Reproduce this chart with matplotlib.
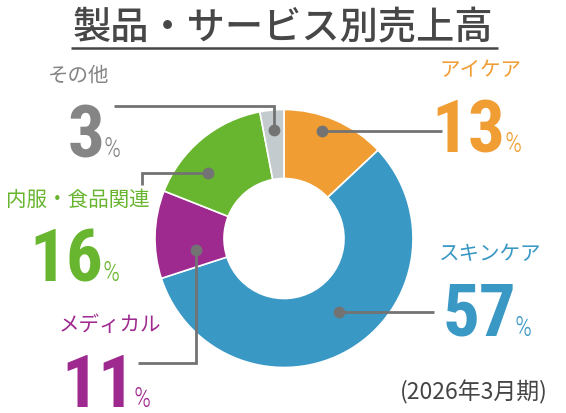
import matplotlib
matplotlib.use("Agg")
import matplotlib.pyplot as plt
from matplotlib import font_manager as fm
from matplotlib.font_manager import FontProperties
from matplotlib.textpath import TextPath

# ---- data ----
categories = ["アイケア", "スキンケア", "メディカル", "内服・食品関連", "その他"]
shares = [13, 57, 11, 16, 3]
colors = ["#F09D33", "#3A98C5", "#9E2A8F", "#68B52F", "#C4CBCE"]
label_colors = ["#F09D33", "#3A98C5", "#9E2A8F", "#68B52F", "#858585"]
title = "製品・サービス別売上高"
period = "(2026年3月期)"

# ---- fonts ----
names = {f.name for f in fm.fontManager.ttflist}
numfam = "DejaVu Sans"
for cand in ["Roboto Condensed", "Barlow Semi Condensed", "Archivo Narrow",
             "Liberation Sans Narrow", "Roboto"]:
    if cand in names:
        numfam = cand
        break
JP = ["Noto Sans CJK JP", "DejaVu Sans"]
num_fp = FontProperties(family=numfam, weight="bold")
pct_fp = FontProperties(family=numfam, weight="light")

def ink(text, fp):
    ext = TextPath((0, 0), text, size=100, prop=fp).get_extents()
    return ext.x0 / 100.0, ext.width / 100.0, ext.height / 100.0

# size the big numbers so digit ink height ~52.5 px, % ink height ~19 px
_, _, h57 = ink("57", num_fp)
num_px = 52.5 / h57
_, _, hp = ink("%", pct_fp)
pct_px = 19.5 / hp

W, H = 566, 414
fig = plt.figure(figsize=(W / 100, H / 100), dpi=100)
ax = fig.add_axes([0, 0, 1, 1])

def Y(y):
    return H - y

# donut
cx, cy, R, r_in = 284, 239.5, 129, 60
ax.pie(shares, colors=colors, radius=R, center=(cx, Y(cy)), startangle=90,
       counterclock=False,
       wedgeprops=dict(width=R - r_in, edgecolor="white", linewidth=1.2))
ax.set_xlim(0, W)
ax.set_ylim(0, H)
ax.set_aspect("equal")
ax.axis("off")

# title
ax.text(W / 2 - 0.5, Y(28), title, family=JP, fontsize=27.5, weight="medium",
        color="#474747", ha="center", va="center")
ax.plot([71, 498], [Y(48.5), Y(48.5)], color="#474747", lw=1.8, solid_capstyle="butt")

line_c = "#737373"
leaders = {
    "アイケア": [(321.7, 132.3), (441.5, 132.3)],
    "スキンケア": [(339, 313), (434, 313)],
    "メディカル": [(196, 251), (196, 364), (138, 364)],
    "内服・食品関連": [(208.3, 174), (141.7, 174), (141.7, 186)],
    "その他": [(274, 131), (274, 106.7), (114, 106.7)],
}
for cat, pts in leaders.items():
    xs = [p[0] for p in pts]
    ys = [Y(p[1]) for p in pts]
    ax.plot(xs, ys, color=line_c, lw=2.0, solid_joinstyle="miter", solid_capstyle="butt")
    ax.plot(xs[0], ys[0], "o", color=line_c, ms=8.5, mec="none")

# layout: (label cx, label cy, number ink left, baseline, pct ink left)
layout = {
    "アイケア": (480.5, 70.5, 436.7, 152.3, 506),
    "スキンケア": (490, 254, 446, 336, 516),
    "メディカル": (109.5, 325.5, 67, 407, 135),
    "内服・食品関連": (78, 199.5, 35, 281, 104),
    "その他": (78.5, 76, 70.4, 157, 105),
}
for cat, val, lc in zip(categories, shares, label_colors):
    lx, ly, nx, nb, px = layout[cat]
    ax.text(lx, Y(ly), cat, family=JP, fontsize=14.8, color=lc, ha="center", va="center")
    s = f"{val}"
    x0, _, _ = ink(s, num_fp)
    ax.text(nx - x0 * num_px, Y(nb), s, fontproperties=num_fp,
            fontsize=num_px * 0.72, color=lc, ha="left", va="baseline")
    p0, _, _ = ink("%", pct_fp)
    ax.text(px - p0 * pct_px, Y(nb), "%", fontproperties=pct_fp,
            fontsize=pct_px * 0.72, color=lc, ha="left", va="baseline")

ax.text(473.5, Y(392.5), period, family=JP, fontsize=16.5, color="#444444",
        ha="center", va="center")

fig.savefig("out.png", dpi=100)
